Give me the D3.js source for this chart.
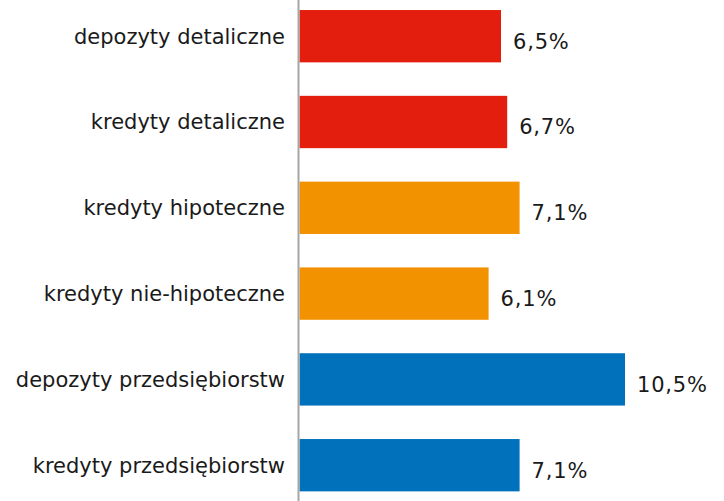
<!DOCTYPE html>
<html><head><meta charset="utf-8">
<script src="https://cdn.jsdelivr.net/npm/d3@7"></script>
<style>body{margin:0;background:#fff}svg{display:block}text{font-family:"DejaVu Sans",Verdana,sans-serif}</style>
</head><body><svg id="c" width="724" height="501"></svg>
<script>
const categories = ["depozyty detaliczne","kredyty detaliczne","kredyty hipoteczne","kredyty nie-hipoteczne","depozyty przedsiębiorstw","kredyty przedsiębiorstw"];
const values = [6.5, 6.7, 7.1, 6.1, 10.5, 7.1];
const colors = ["#E31E0E","#E31E0E","#F39200","#F39200","#0071BA","#0071BA"];
const valueLabels = ["6,5%","6,7%","7,1%","6,1%","10,5%","7,1%"];

const svg = d3.select("#c");
const x0 = 299.5;
const x = d3.scaleLinear().domain([0, 10.5]).range([x0, 625]);
const y = d3.scaleBand().domain(categories).range([-6.7, 508.1]).paddingInner(0.39).paddingOuter(0.195);

svg.selectAll("rect.bar").data(categories).join("rect").attr("class","bar")
  .attr("x", x(0)).attr("y", d => y(d))
  .attr("width", (d,i) => x(values[i]) - x(0)).attr("height", y.bandwidth())
  .attr("fill", (d,i) => colors[i]);

svg.append("line").attr("x1", x0-1).attr("x2", x0-1).attr("y1", 0).attr("y2", 501)
  .attr("stroke", "#a6a6a6").attr("stroke-width", 2);

svg.selectAll("text.cat").data(categories).join("text").attr("class","cat")
  .attr("x", 285).attr("y", d => y(d) + y.bandwidth()/2 + 7.3)
  .attr("text-anchor","end").attr("font-size", 21).attr("fill","#1a1a1a").text(d => d);

svg.selectAll("text.val").data(categories).join("text").attr("class","val")
  .attr("x", (d,i) => x(values[i]) + 12).attr("y", d => y(d) + y.bandwidth()/2 + 12.3)
  .attr("font-size", 21).attr("letter-spacing", 0.8).attr("fill","#1a1a1a").text((d,i) => valueLabels[i]);
</script></body></html>
